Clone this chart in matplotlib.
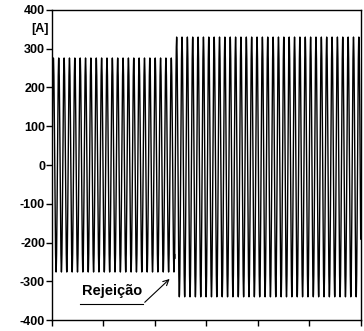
import numpy as np
import matplotlib
matplotlib.use("Agg")
import matplotlib.pyplot as plt

# values
t_end = 0.96            # s, visible window
freq = 60.0             # Hz
fs = 1920.0             # Hz, recorder sampling rate
t_reject = 0.381        # s, load rejection instant
amp_before = 276.0      # A, peak before rejection
amp_after = 335.0       # A, peak after rejection
offset_after = -5.0     # A
yticks = [-400, -300, -200, -100, 0, 100, 200, 300, 400]
xticks = [0, 0.16, 0.32, 0.48, 0.64, 0.80, 0.96]

plt.rcParams['font.family'] = ['Liberation Sans', 'DejaVu Sans']

t = np.arange(0, t_end, 1 / fs)
amp = np.where(t < t_reject, amp_before, amp_after)
off = np.where(t < t_reject, 0.0, offset_after)
current = amp * np.sin(2 * np.pi * freq * t) + off

fig = plt.figure(figsize=(3.64, 3.31), dpi=100)
ax = fig.add_axes([0.143, 0.033, 0.848, 0.937])

ax.plot(t, current, color='black', linewidth=1.0)

ax.set_xlim(0, t_end)
ax.set_ylim(-400, 400)
ax.set_yticks(yticks)
ax.set_yticklabels([str(v) for v in yticks], fontsize=9, fontweight='bold')
ax.set_xticks(xticks)
ax.set_xticklabels([])
ax.tick_params(direction='out', length=4, width=1, pad=1)
for s in ax.spines.values():
    s.set_linewidth(1)

ax.text(-0.012, 350, "[A]", transform=ax.get_yaxis_transform(), ha='right', va='center',
        fontsize=9, fontweight='bold')

ax.text(0.186, -326, "Rejeição", ha='center', va='center', fontsize=10.5, fontweight='bold')
ax.plot([0.087, 0.282], [-359, -359], color='black', linewidth=0.8)
ax.annotate("", xy=(0.372, -289), xytext=(0.282, -359),
            arrowprops=dict(arrowstyle='->', color='black', lw=0.8))

fig.savefig("out.png", dpi=100)
